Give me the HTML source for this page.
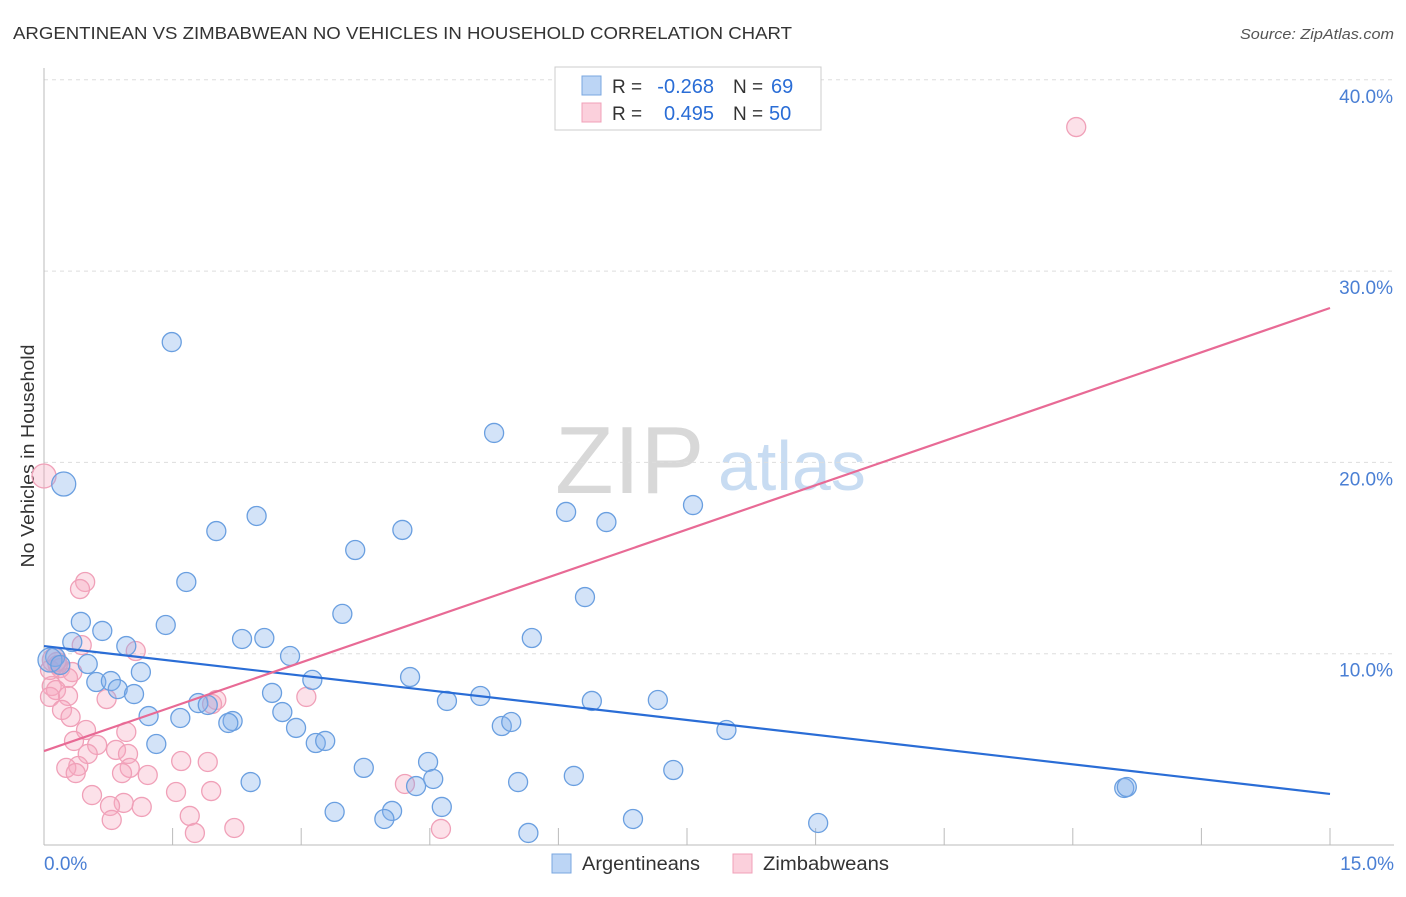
<!DOCTYPE html>
<html><head><meta charset="utf-8"><style>
body{margin:0;background:#fff;font-family:"Liberation Sans",sans-serif}
svg text{font-family:"Liberation Sans",sans-serif}
</style></head><body>
<svg id="chart" width="1406" height="892" viewBox="0 0 1406 892" xmlns="http://www.w3.org/2000/svg">
<text x="13" y="39" font-size="17.5" fill="#333" textLength="779" lengthAdjust="spacingAndGlyphs">ARGENTINEAN VS ZIMBABWEAN NO VEHICLES IN HOUSEHOLD CORRELATION CHART</text>
<text x="1394" y="39" font-size="15" fill="#555" text-anchor="end" font-style="italic" textLength="154" lengthAdjust="spacingAndGlyphs">Source: ZipAtlas.com</text>
<text transform="translate(34,456) rotate(-90)" font-size="18" fill="#333" text-anchor="middle" textLength="223" lengthAdjust="spacingAndGlyphs">No Vehicles in Household</text>
<g>
<text x="555" y="493" font-size="96" fill="#d8d8d8" font-family="Liberation Serif,serif">ZIP</text>
<text x="718" y="490" font-size="70" fill="#c8dcf2">atlas</text>
</g>
<g id="grid"></g>
<g id="marks"></g>
<g>
<rect x="555" y="67" width="266" height="63" fill="#fff" stroke="#ccc"/>
<rect x="582" y="76" width="19" height="19" fill="#bcd5f5" stroke="#7aa7e0"/>
<rect x="582" y="103" width="19" height="19" fill="#fbd0dc" stroke="#f0a0b8"/>
<text x="612" y="93" font-size="19" fill="#333">R =</text>
<text x="714" y="93" font-size="20" fill="#2a6dd6" text-anchor="end">-0.268</text>
<text x="733" y="93" font-size="19" fill="#333">N =</text>
<text x="771" y="93" font-size="20" fill="#2a6dd6">69</text>
<text x="612" y="120" font-size="19" fill="#333">R =</text>
<text x="714" y="120" font-size="20" fill="#2a6dd6" text-anchor="end">0.495</text>
<text x="733" y="120" font-size="19" fill="#333">N =</text>
<text x="769" y="120" font-size="20" fill="#2a6dd6">50</text>
</g>
<g>
<rect x="552" y="854" width="19" height="19" fill="#bcd5f5" stroke="#7aa7e0"/>
<text x="582" y="870" font-size="19" fill="#333" textLength="118" lengthAdjust="spacingAndGlyphs">Argentineans</text>
<rect x="733" y="854" width="19" height="19" fill="#fbd0dc" stroke="#f0a0b8"/>
<text x="763" y="870" font-size="19" fill="#333" textLength="126" lengthAdjust="spacingAndGlyphs">Zimbabweans</text>
</g>
</svg>
<script>
const blueX=[1.49,0.23,5.25,2.01,2.48,4.18,3.63,6.09,6.56,7.57,1.66,3.48,6.31,0.43,1.42,0.68,0.33,0.96,2.31,2.57,5.69,2.87,0.13,0.51,1.13,4.27,3.13,0.61,0.78,0.86,1.05,2.66,5.09,4.70,6.39,7.16,1.80,1.91,1.22,1.59,2.20,2.15,2.78,2.94,5.34,5.45,7.96,1.31,3.17,3.28,4.48,3.73,7.34,4.54,2.41,5.53,6.18,4.34,12.60,12.63,4.64,3.39,4.06,3.97,6.87,5.65,9.03,0.07,0.19];
const blueY=[26.29,18.87,21.54,16.41,17.20,16.47,15.42,17.41,16.88,17.77,13.75,12.08,12.96,11.66,11.50,11.19,10.61,10.40,10.77,10.82,10.82,9.88,9.83,9.46,9.04,8.78,8.63,8.52,8.57,8.15,7.89,7.95,7.79,7.53,7.53,7.58,7.42,7.32,6.74,6.64,6.48,6.38,6.95,6.12,6.22,6.43,6.01,5.28,5.33,5.44,4.34,4.03,3.92,3.45,3.29,3.29,3.61,3.08,2.98,3.03,1.99,1.73,1.78,1.36,1.36,0.63,1.15,9.67,9.41];
const pinkX=[12.04,0,0.48,0.42,0.44,1.07,0.15,0.19,0.33,0.28,0.09,0.14,0.28,0.07,0.73,2.01,3.06,1.96,0.21,0.31,0.49,0.96,0.35,0.62,0.84,0.51,0.98,0.40,0.26,1.00,0.37,0.91,1.21,1.60,1.91,0.56,1.54,1.95,0.93,0.77,1.14,1.70,0.79,2.22,1.76,4.21,4.63,0.07,0.16,0.12];
const pinkY=[37.53,19.29,13.75,13.38,10.45,10.14,9.57,9.25,9.04,8.73,8.31,8.10,7.79,7.74,7.63,7.58,7.74,7.37,7.06,6.69,6.01,5.91,5.44,5.23,4.97,4.76,4.76,4.13,4.03,4.03,3.76,3.76,3.66,4.39,4.34,2.61,2.77,2.82,2.20,2.04,1.99,1.52,1.31,0.89,0.63,3.19,0.84,9.15,9.41,9.67];
const blueTrend=[10.40,2.67];
const pinkTrend=[4.91,28.07];
const yTicks=[10,20,30,40];
const yTickLabels=["10.0%","20.0%","30.0%","40.0%"];
const xTicks=[0,1.5,3,4.5,6,7.5,9,10.5,12,13.5,15];
const xMax=15;
const NS="http://www.w3.org/2000/svg";
const sx=v=>44+v*(1286/15);
const sy=v=>845-v*19.13;
function mk(tag,attrs,parent){const e=document.createElementNS(NS,tag);for(const k in attrs)e.setAttribute(k,attrs[k]);parent.appendChild(e);return e;}
const grid=document.getElementById('grid'),marks=document.getElementById('marks');
yTicks.forEach((t,i)=>{
 const l=mk('line',{x1:44,x2:1394,y1:sy(t),y2:sy(t),stroke:'#ddd','stroke-dasharray':'4,4'},grid);
 
 
 const tx=mk('text',{x:1393,y:sy(t)+23,'font-size':19,fill:'#4a7fd4','text-anchor':'end'},grid);
 tx.textContent=yTickLabels[i];
 
 
});
const ax=mk('line',{x1:44,x2:44,y1:68,y2:845,stroke:'#bbb'},grid);


const bx=mk('line',{x1:44,x2:1394,y1:845,y2:845,stroke:'#bbb'},grid);


xTicks.forEach(t=>{
 const l=mk('line',{x1:sx(t),x2:sx(t),y1:828,y2:845,stroke:'#bbb'},grid);
 
 
});
const x0=mk('text',{x:44,y:870,'font-size':19,fill:'#4a7fd4'},grid);x0.textContent='0.0%';


const x1=mk('text',{x:1394,y:870,'font-size':19,fill:'#4a7fd4','text-anchor':'end'},grid);x1.textContent='15.0%';


function pts(X,Y,fill,stroke,name){
 X.forEach((x,i)=>{
  const big=(x<0.3&&(Y[i]>18||(Y[i]>9.6&&Y[i]<9.7)));
  const c=mk('circle',{cx:sx(x),cy:sy(Y[i]),r:big?12:9.5,fill:fill,stroke:stroke,'stroke-width':1.3},marks);
  
  
 });
}
pts(pinkX,pinkY,'rgba(246,170,192,0.35)','#f0a0b8','zimbabwean-point');
pts(blueX,blueY,'rgba(130,175,235,0.35)','#6a9fe0','argentinean-point');
const bl=mk('line',{x1:sx(0),y1:sy(blueTrend[0]),x2:sx(xMax),y2:sy(blueTrend[1]),stroke:'#2a6dd6','stroke-width':2.2},marks);


const pl=mk('line',{x1:sx(0),y1:sy(pinkTrend[0]),x2:sx(xMax),y2:sy(pinkTrend[1]),stroke:'#e86a95','stroke-width':2.2},marks);


</script>
</body></html>
